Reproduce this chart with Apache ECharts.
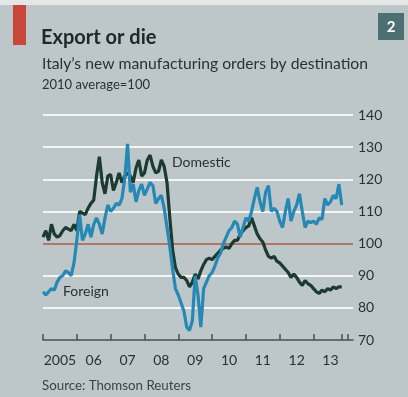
<!DOCTYPE html>
<html>
<head>
<meta charset="utf-8">
<script src="https://cdn.jsdelivr.net/npm/echarts@6/dist/echarts.min.js"></script>
<style>
html,body{margin:0;padding:0;background:#bdc7ca;}
#c{width:408px;height:397px;}
</style>
</head>
<body>
<div id="c"></div>
<script>
// Months from Jan 2005
const startYear = 2005;
const monthCount = 111;
const yearLabels = ['2005','06','07','08','09','10','11','12','13'];
const yTicks = [70, 80, 90, 100, 110, 120, 130, 140];

const domestic = [
  102,104,101,106,103,102,102.5,104,105,104.5,104,106,
  104,110,109.5,109,111,112.5,113.5,121,127,119,115.5,121,
  121.5,116.5,119,122,119,121,122,121,119,123.5,126,121,
  122,126,127.5,124,122,122.5,126,124,119,108,98,92.5,
  90.5,89.5,89.5,88.5,86.5,88,90.5,89,91.5,93.5,95,95.5,
  95,96,97,98,98.5,99,98.5,100,101,101,103,104,
  105,105.5,108,105.5,103,101.5,100.5,98,96,95.5,96,94.5,
  94,93,92,91,89.5,90.5,89.5,88,87,88.5,87.5,87,
  86,85,84.5,85.5,85,86,85.5,86.5,86,86.5,86.5
];
const foreign = [
  85,84,85,86,85.5,88,89.5,90,91.5,91,90,94,
  101,109,101,103,106,102,106,108,106,103,108,112,
  110,111,112.5,112,114,120,131,116,118.5,113,116.5,118.5,
  115,117,119,118,112.5,114,115,111,105,99,92,86,
  84,81.5,79,74,73,76,90,84,74,86,88,90,
  91,93,95.5,97,100,102,104,105,107,106,102,105,
  108,107,110,114,117.5,113,110,116,118,110,111,110,
  107,105,110,114,107,110,112,115.5,110,105,107,106.5,
  107,106,108,107.5,114,112,113,115,114,118.5,112
];

const cats = [];
for (let i = 0; i < monthCount; i++) {
  const y = startYear + Math.floor(i / 12);
  const m = (i % 12) + 1;
  cats.push(y + '-' + (m < 10 ? '0' + m : m));
}

const chart = echarts.init(document.getElementById('c'), null, {renderer: 'canvas'});
const FONT = 'Lato, "DejaVu Sans", sans-serif';
const gridColors = yTicks.map(v => v === 100 ? '#b07766' : (v === 70 ? 'rgba(0,0,0,0)' : '#f4f6f6'));

chart.setOption({
  backgroundColor: '#bdc7ca',
  animation: false,
  textStyle: {fontFamily: FONT},
  grid: {left: 43, right: 55, top: 115, bottom: 57, containLabel: false},
  graphic: [
    {type: 'rect', shape: {x: 0, y: 0, width: 408, height: 5}, style: {fill: '#e4e7e6'}},
    {type: 'rect', shape: {x: 13, y: 5, width: 13, height: 40}, style: {fill: '#c9473a'}},
    {type: 'rect', shape: {x: 378, y: 13, width: 26, height: 27}, style: {fill: '#4b6f72'}},
    {type: 'text', x: 391, y: 27, style: {text: '2', fill: '#ffffff', font: 'bold 15px ' + FONT, textAlign: 'center', textVerticalAlign: 'middle'}},
    {type: 'text', x: 41, y: 28, style: {text: 'Export or die', fill: '#22282a', font: 'bold 20px ' + FONT}},
    {type: 'text', x: 42, y: 56, style: {text: 'Italy\u2019s new manufacturing orders by destination', fill: '#2a3033', font: '15.7px ' + FONT}},
    {type: 'text', x: 42, y: 78, style: {text: '2010 average=100', fill: '#2a3033', font: '13px ' + FONT}},
    {type: 'text', x: 172, y: 155, style: {text: 'Domestic', fill: '#2a3033', font: '14px ' + FONT}},
    {type: 'text', x: 63, y: 284, style: {text: 'Foreign', fill: '#2a3033', font: '14px ' + FONT}},
    {type: 'text', x: 42, y: 379, style: {text: 'Source: Thomson Reuters', fill: '#3a4245', font: '13.3px ' + FONT}}
  ],
  xAxis: {
    type: 'category',
    data: cats,
    boundaryGap: false,
    axisLine: {show: true, lineStyle: {color: '#4a5052', width: 1.5}},
    axisTick: {show: true, inside: true, length: 6, lineStyle: {color: '#4a5052', width: 1.5},
      interval: (i) => i % 12 === 0 || i === 106},
    axisLabel: {
      interval: (i) => i % 12 === 6,
      formatter: (v, i) => yearLabels[Math.floor(i / 12)] || '',
      color: '#2a3033', fontSize: 14, fontFamily: FONT, margin: 13
    },
    splitLine: {show: false}
  },
  yAxis: {
    type: 'value',
    position: 'right',
    min: 70, max: 140, interval: 10,
    axisLine: {show: false},
    axisTick: {show: false},
    axisLabel: {color: '#2a3033', fontSize: 14, fontFamily: FONT, margin: 5},
    splitLine: {show: true, lineStyle: {color: gridColors, width: 2}}
  },
  series: [
    {
      name: 'Domestic', type: 'line', data: domestic, showSymbol: false, symbol: 'none',
      lineStyle: {color: '#1b3a31', width: 3.2}, z: 3
    },
    {
      name: 'Foreign', type: 'line', data: foreign, showSymbol: false, symbol: 'none',
      lineStyle: {color: '#2688b5', width: 3.2}, z: 4
    }
  ]
});
</script>
</body>
</html>
